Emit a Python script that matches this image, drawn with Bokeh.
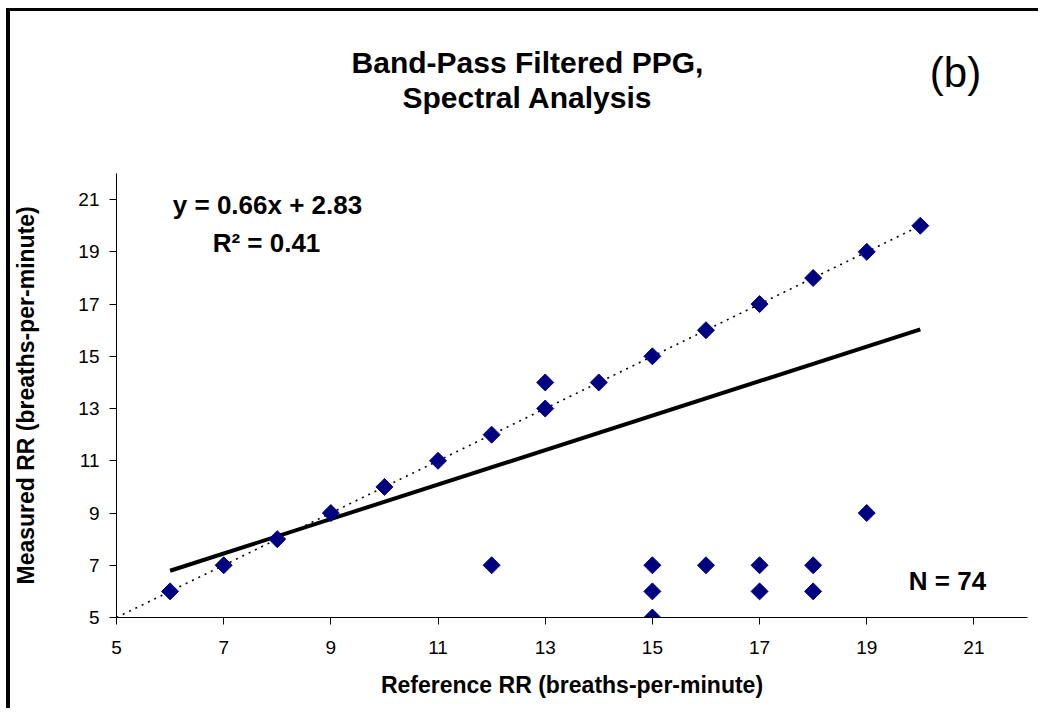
from bokeh.plotting import figure
from bokeh.models import Label, Range1d, FixedTicker
from bokeh.embed import file_html
from bokeh.resources import INLINE

# data
diag_x = [6, 7, 8, 9, 10, 11, 12, 13, 13, 14, 15, 16, 17, 18, 19, 20]
diag_y = [6, 7, 8, 9, 10, 11, 12, 13, 14, 14, 15, 16, 17, 18, 19, 20]
off_x = [12, 15, 15, 15, 16, 17, 17, 18, 18, 19]
off_y = [7, 7, 6, 5, 7, 7, 6, 7, 6, 9]
ref_x = diag_x + off_x
meas_y = diag_y + off_y
slope, intercept = 0.66, 2.83
fit_x = [6, 20]
ident_x = [5, 20]
ticks = [5, 7, 9, 11, 13, 15, 17, 19, 21]

FONT = "Liberation Sans"
CX, CY = 10, 11  # canvas origin on page
FL, FR, FT, FB = 116, 1027, 173, 617   # axes box on page
XMIN, XMAX, YMIN, YMAX = 5, 22, 5, 22
TOP_PAD = 2
FTOP = CY + TOP_PAD                      # plotting frame extends up to here
YTOP = YMIN + (FB - FTOP) * (YMAX - YMIN) / (FB - FT)
W = FR - CX + 15
H = FB - CY + 94

def px2x(px):
    return XMIN + (px - FL) * (XMAX - XMIN) / (FR - FL)

def py2y(py):
    return YMIN + (FB - py) * (YMAX - YMIN) / (FB - FT)

p = figure(width=W, height=H, output_backend="svg", toolbar_location=None,
           x_range=Range1d(XMIN, XMAX), y_range=Range1d(YMIN, YTOP),
           min_border_left=FL - CX, min_border_right=CX + W - FR,
           min_border_top=TOP_PAD, min_border_bottom=CY + H - FB)
p.title.visible = False
p.styles = {"border-left": "4px solid black", "border-top": "3px solid black",
            "margin-left": "6px", "margin-top": "8px"}
p.outline_line_color = None
p.xgrid.visible = False
p.ygrid.visible = False
p.background_fill_color = "white"
p.border_fill_color = "white"

for ax in (p.xaxis[0], p.yaxis[0]):
    ax.ticker = FixedTicker(ticks=ticks)
    ax.minor_tick_line_color = None
    ax.major_tick_in = 0
    ax.major_tick_out = 7
    ax.axis_line_color = "black"
    ax.major_tick_line_color = "black"
    ax.major_label_text_font = FONT
    ax.major_label_text_font_size = "19px"
    ax.major_label_text_color = "black"
    ax.axis_label_text_font = FONT
    ax.axis_label_text_font_style = "bold"
    ax.axis_label_text_font_size = "23px"
    ax.axis_label_text_color = "black"

p.yaxis[0].bounds = (YMIN, YMAX)
p.xaxis.axis_label = "Reference RR (breaths-per-minute)"
# trailing no-break spaces keep the label centred on the 5..22 axis
# (the frame reaches up into the title area)
p.yaxis.axis_label = "Measured RR (breaths-per-minute)" + "\u00a0" * 25
p.xaxis.major_label_standoff = 16
p.xaxis.axis_label_standoff = 15
p.yaxis.major_label_standoff = 10
p.yaxis.axis_label_standoff = 36

# identity dotted line
p.line(ident_x, ident_x, line_color="black", line_width=1.6, line_dash="2 5")
# regression line
p.line(fit_x, [slope * v + intercept for v in fit_x], line_color="black", line_width=4)
# points
p.scatter(ref_x, meas_y, marker="square", angle=0.785398, size=12,
          fill_color="#000080", line_color="#000080")

def lab(text, px, py, size, bold=True):
    p.add_layout(Label(x=px2x(px), y=py2y(py), text=text, text_font=FONT,
                       text_font_size=size, text_font_style="bold" if bold else "normal",
                       text_align="center", text_baseline="middle", text_color="black"))

lab("Band-Pass Filtered PPG,", 527, 62, "30px")
lab("Spectral Analysis", 527, 97, "30px")
lab("(b)", 955, 72, "42px", bold=False)
lab("y = 0.66x + 2.83", 267, 204, "26px")
lab("R\u00b2 = 0.41", 266, 242, "26px")
lab("N = 74", 947, 580, "26px")

open("out.html", "w").write(file_html(p, INLINE))
